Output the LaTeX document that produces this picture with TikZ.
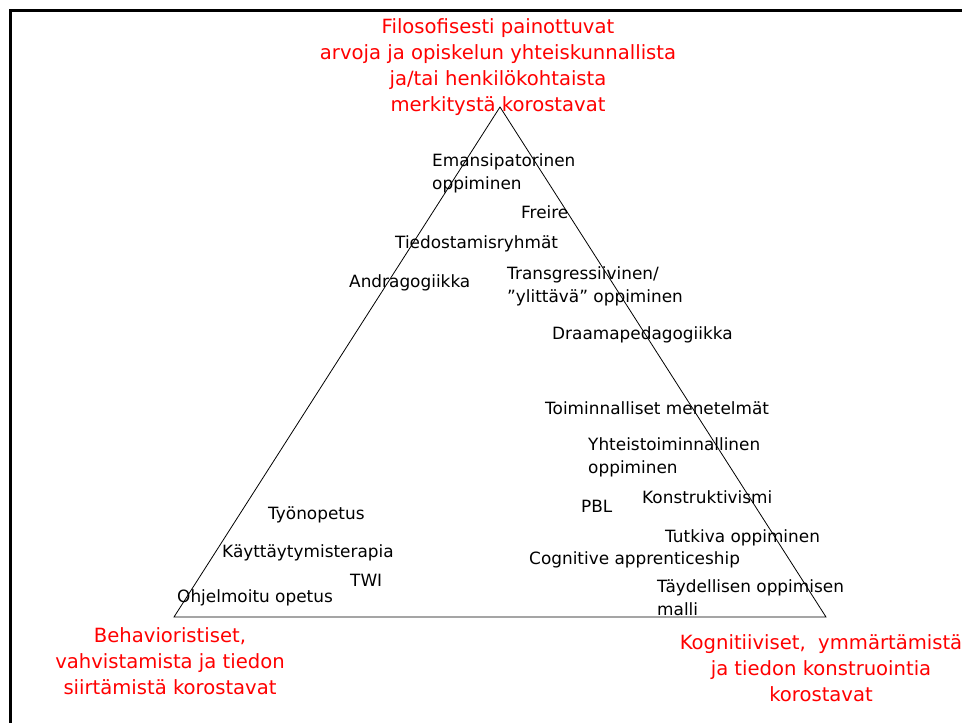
\documentclass[tikz,border=0pt]{standalone}
\usepackage{fontspec}
\setmainfont{DejaVu Sans}

\begin{document}
\begin{tikzpicture}[x=1pt,y=-1pt,
  lbl/.style={anchor=base west,inner sep=0pt,align=left,font=\fontsize{16.9}{23}\selectfont},
  redlbl/.style={anchor=base,inner sep=0pt,align=center,text=red,font=\fontsize{19.6}{26}\selectfont}]

\useasboundingbox (0,0) rectangle (962,723);
\draw [line width=3pt] (10,10) rectangle (990,760);

% triangle
\coordinate (top) at (500,107);
\coordinate (left) at (174,617);
\coordinate (right) at (826,617);
\draw [line width=0.8pt] (top) -- (left) -- (right) -- cycle;

% corners (base = last line)
\node [redlbl] (filo) at (498,111) {Filosofisesti painottuvat\\arvoja ja opiskelun yhteiskunnallista\\ja/tai henkilökohtaista\\merkitystä korostavat};
\node [redlbl] (beha) at (170,694) {Behavioristiset,\\vahvistamista ja tiedon\\siirtämistä korostavat};
\node [redlbl] (kogn) at (821,701) {Kognitiiviset,\ \ ymmärtämistä\\ja tiedon konstruointia\\korostavat};

% upper part
\node [lbl] (eman) at (432,189) {Emansipatorinen\\oppiminen};
\node [lbl] (frei) at (521,218) {Freire};
\node [lbl] (tied) at (395,248) {Tiedostamisryhmät};
\node [lbl] (andr) at (349,287) {Andragogiikka};
\node [lbl] (tran) at (507,302) {Transgressiivinen/\\”ylittävä” oppiminen};
\node [lbl] (draa) at (552,339) {Draamapedagogiikka};

% right part
\node [lbl] (toim) at (545,414) {Toiminnalliset menetelmät};
\node [lbl] (yhte) at (588,473) {Yhteistoiminnallinen\\oppiminen};
\node [lbl] (pbl) at (581,512) {PBL};
\node [lbl] (kons) at (642,503) {Konstruktivismi};
\node [lbl] (tutk) at (665,542) {Tutkiva oppiminen};
\node [lbl] (cogn) at (529,564) {Cognitive apprenticeship};
\node [lbl] (tayd) at (657,615) {Täydellisen oppimisen\\malli};

% left part
\node [lbl] (tyon) at (268,519) {Työnopetus};
\node [lbl] (kayt) at (222,557) {Käyttäytymisterapia};
\node [lbl] (twi) at (350,586) {TWI};
\node [lbl] (ohje) at (177,602) {Ohjelmoitu opetus};

\end{tikzpicture}
\end{document}
